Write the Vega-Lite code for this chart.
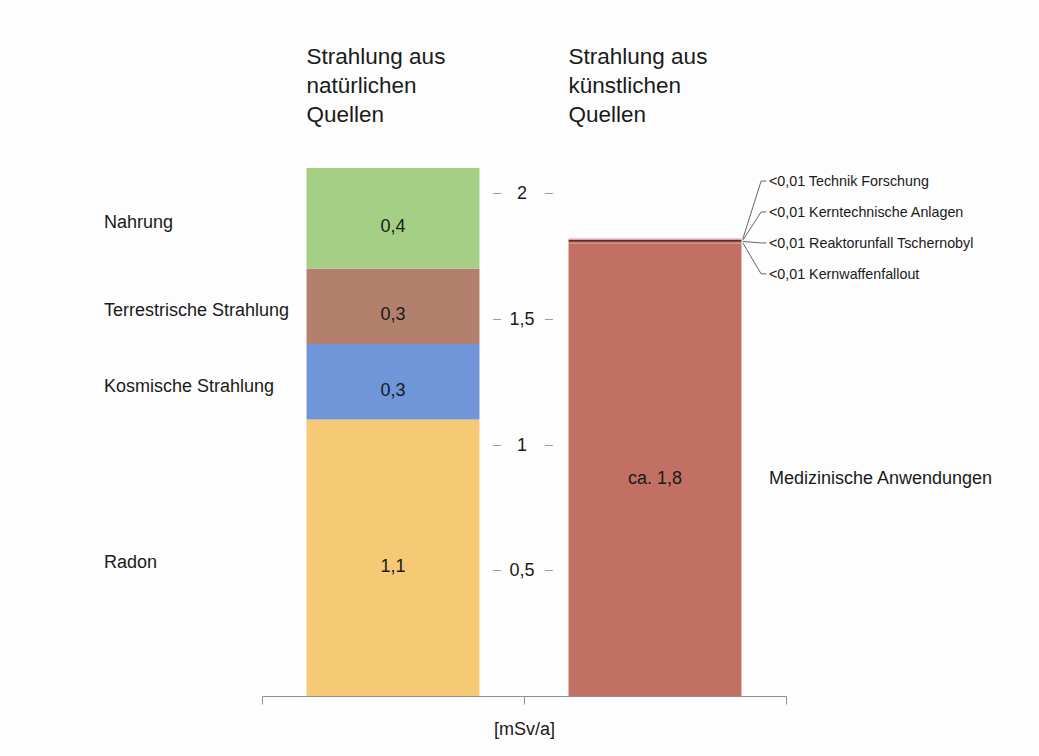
{
  "$schema": "https://vega.github.io/schema/vega-lite/v6.json",
  "width": 524,
  "height": 528,
  "autosize": {"type": "none"},
  "padding": {"left": 262, "top": 168, "right": 253, "bottom": 60},
  "background": "#fdfdfd",
  "config": {"view": {"stroke": null}, "font": "Liberation Sans", "text": {"font": "Liberation Sans"}},
  "datasets": {
    "quellen": [
      {"Gruppe": "natürlich", "Quelle": "Radon", "Wert": 1.1, "Text": "1,1", "Ordnung": 1},
      {"Gruppe": "natürlich", "Quelle": "Kosmische Strahlung", "Wert": 0.3, "Text": "0,3", "Ordnung": 2},
      {"Gruppe": "natürlich", "Quelle": "Terrestrische Strahlung", "Wert": 0.3, "Text": "0,3", "Ordnung": 3},
      {"Gruppe": "natürlich", "Quelle": "Nahrung", "Wert": 0.4, "Text": "0,4", "Ordnung": 4},
      {"Gruppe": "künstlich", "Quelle": "Medizinische Anwendungen", "Wert": 1.8, "Text": "ca. 1,8", "Ordnung": 1},
      {"Gruppe": "künstlich", "Quelle": "Kernwaffenfallout", "Wert": 0.005, "Text": "<0,01", "Ordnung": 2},
      {"Gruppe": "künstlich", "Quelle": "Reaktorunfall Tschernobyl", "Wert": 0.005, "Text": "<0,01", "Ordnung": 3},
      {"Gruppe": "künstlich", "Quelle": "Kerntechnische Anlagen", "Wert": 0.005, "Text": "<0,01", "Ordnung": 4},
      {"Gruppe": "künstlich", "Quelle": "Technik Forschung", "Wert": 0.005, "Text": "<0,01", "Ordnung": 5}
    ],
    "titel": [
      {"Gruppe": "natürlich", "Titel": "Strahlung aus\nnatürlichen\nQuellen"},
      {"Gruppe": "künstlich", "Titel": "Strahlung aus\nkünstlichen\nQuellen"}
    ],
    "ticks": [
      {"Wert": 0.5, "Text": "0,5"},
      {"Wert": 1, "Text": "1"},
      {"Wert": 1.5, "Text": "1,5"},
      {"Wert": 2, "Text": "2"}
    ]
  },
  "layer": [
    {
      "data": {"name": "quellen"},
      "transform": [
        {"stack": "Wert", "groupby": ["Gruppe"], "sort": [{"field": "Ordnung", "order": "ascending"}], "as": ["y0", "y1"]}
      ],
      "mark": {"type": "bar", "width": {"band": 0.66}},
      "encoding": {
        "x": {
          "field": "Gruppe", "type": "nominal",
          "scale": {"domain": ["natürlich", "künstlich"], "paddingInner": 0, "paddingOuter": 0},
          "axis": {
            "title": "[mSv/a]", "labels": false, "tickBand": "extent",
            "domainColor": "#8c9198", "tickColor": "#8c9198", "tickSize": 8, "grid": false,
            "titleFont": "Liberation Sans", "titleFontSize": 18, "titleFontWeight": "normal",
            "titleColor": "#1a1a1a", "titlePadding": 16
          }
        },
        "y": {"field": "y0", "type": "quantitative", "scale": {"domain": [0, 2.1], "nice": false, "zero": true}, "axis": null},
        "y2": {"field": "y1"},
        "color": {
          "field": "Quelle", "type": "nominal", "legend": null,
          "scale": {
            "domain": ["Radon", "Kosmische Strahlung", "Terrestrische Strahlung", "Nahrung", "Medizinische Anwendungen", "Kernwaffenfallout", "Reaktorunfall Tschernobyl", "Kerntechnische Anlagen", "Technik Forschung"],
            "range": ["#f6ca75", "#7095d8", "#b2806d", "#a6cf86", "#c26f64", "#b07a55", "#8a4a3c", "#6a2630", "#d89aa8"]
          }
        }
      }
    },
    {
      "data": {"name": "quellen"},
      "transform": [
        {"stack": "Wert", "groupby": ["Gruppe"], "sort": [{"field": "Ordnung", "order": "ascending"}], "as": ["y0", "y1"]},
        {"calculate": "(datum.y0 + datum.y1) / 2", "as": "mitte"},
        {"filter": "datum.Wert >= 0.1"}
      ],
      "mark": {"type": "text", "fontSize": 18, "dy": 9, "color": "#1a1a1a"},
      "encoding": {
        "x": {"field": "Gruppe", "type": "nominal"},
        "y": {"field": "mitte", "type": "quantitative"},
        "text": {"field": "Text"}
      }
    },
    {
      "data": {"name": "quellen"},
      "transform": [
        {"stack": "Wert", "groupby": ["Gruppe"], "sort": [{"field": "Ordnung", "order": "ascending"}], "as": ["y0", "y1"]},
        {"calculate": "(datum.y0 + datum.y1) / 2", "as": "mitte"},
        {"filter": "datum.Gruppe === 'natürlich'"}
      ],
      "mark": {"type": "text", "fontSize": 18, "align": "left", "dx": -158, "dy": 5, "color": "#1a1a1a"},
      "encoding": {
        "x": {"field": "Gruppe", "type": "nominal", "bandPosition": 0},
        "y": {"field": "mitte", "type": "quantitative"},
        "text": {"field": "Quelle"}
      }
    },
    {
      "data": {"name": "quellen"},
      "transform": [
        {"stack": "Wert", "groupby": ["Gruppe"], "sort": [{"field": "Ordnung", "order": "ascending"}], "as": ["y0", "y1"]},
        {"calculate": "(datum.y0 + datum.y1) / 2", "as": "mitte"},
        {"filter": "datum.Gruppe === 'künstlich' && datum.Wert >= 0.1"}
      ],
      "mark": {"type": "text", "fontSize": 18, "align": "left", "dy": 9, "color": "#1a1a1a"},
      "encoding": {
        "x": {"field": "Gruppe", "type": "nominal", "bandPosition": 0.935},
        "y": {"field": "mitte", "type": "quantitative"},
        "text": {"field": "Quelle"}
      }
    },
    {
      "data": {"name": "quellen"},
      "transform": [
        {"stack": "Wert", "groupby": ["Gruppe"], "sort": [{"field": "Ordnung", "order": "ascending"}], "as": ["y0", "y1"]},
        {"filter": "datum.Wert < 0.1"},
        {"calculate": "1.802 + (datum.Ordnung - 3) * 0.123", "as": "linie_y"},
        {"calculate": "datum.Text + ' ' + datum.Quelle", "as": "Etikett"}
      ],
      "mark": {"type": "text", "fontSize": 14.3, "align": "left", "dy": 1, "color": "#1a1a1a"},
      "encoding": {
        "x": {"field": "Gruppe", "type": "nominal", "bandPosition": 0.935},
        "y": {"field": "linie_y", "type": "quantitative"},
        "text": {"field": "Etikett"}
      }
    },
    {
      "data": {"name": "quellen"},
      "transform": [
        {"stack": "Wert", "groupby": ["Gruppe"], "sort": [{"field": "Ordnung", "order": "ascending"}], "as": ["y0", "y1"]},
        {"calculate": "(datum.y0 + datum.y1) / 2", "as": "mitte"},
        {"filter": "datum.Wert < 0.1"},
        {"calculate": "1.802 + (datum.Ordnung - 3) * 0.123", "as": "linie_y"}
      ],
      "mark": {"type": "rule", "color": "#666666", "strokeWidth": 1},
      "encoding": {
        "x": {"field": "Gruppe", "type": "nominal", "bandPosition": 0.835},
        "x2": {"field": "Gruppe", "bandPosition": 0.905},
        "y": {"field": "mitte", "type": "quantitative"},
        "y2": {"field": "linie_y"}
      }
    },
    {
      "data": {"name": "quellen"},
      "transform": [
        {"filter": "datum.Wert < 0.1"},
        {"calculate": "1.802 + (datum.Ordnung - 3) * 0.123", "as": "linie_y"}
      ],
      "mark": {"type": "rule", "color": "#666666", "strokeWidth": 1},
      "encoding": {
        "x": {"field": "Gruppe", "type": "nominal", "bandPosition": 0.905},
        "x2": {"field": "Gruppe", "bandPosition": 0.925},
        "y": {"field": "linie_y", "type": "quantitative"}
      }
    },
    {
      "data": {"name": "titel"},
      "mark": {"type": "text", "fontSize": 22.5, "align": "left", "baseline": "top", "lineBreak": "\n", "lineHeight": 29, "color": "#1a1a1a"},
      "encoding": {
        "x": {"field": "Gruppe", "type": "nominal", "bandPosition": 0.17},
        "y": {"datum": 2.585, "type": "quantitative"},
        "text": {"field": "Titel"}
      }
    },
    {
      "data": {"name": "ticks"},
      "mark": {"type": "text", "fontSize": 18, "dx": -2, "dy": 1, "color": "#1a1a1a"},
      "encoding": {
        "x": {"datum": "natürlich", "type": "nominal", "bandPosition": 1},
        "y": {"field": "Wert", "type": "quantitative"},
        "text": {"field": "Text"}
      }
    },
    {
      "data": {"name": "ticks"},
      "mark": {"type": "text", "text": "–", "fontSize": 14, "dx": -27, "color": "#9a9a9a"},
      "encoding": {
        "x": {"datum": "natürlich", "type": "nominal", "bandPosition": 1},
        "y": {"field": "Wert", "type": "quantitative"}
      }
    },
    {
      "data": {"name": "ticks"},
      "mark": {"type": "text", "text": "–", "fontSize": 14, "dx": 25, "color": "#9a9a9a"},
      "encoding": {
        "x": {"datum": "natürlich", "type": "nominal", "bandPosition": 1},
        "y": {"field": "Wert", "type": "quantitative"}
      }
    }
  ]
}
